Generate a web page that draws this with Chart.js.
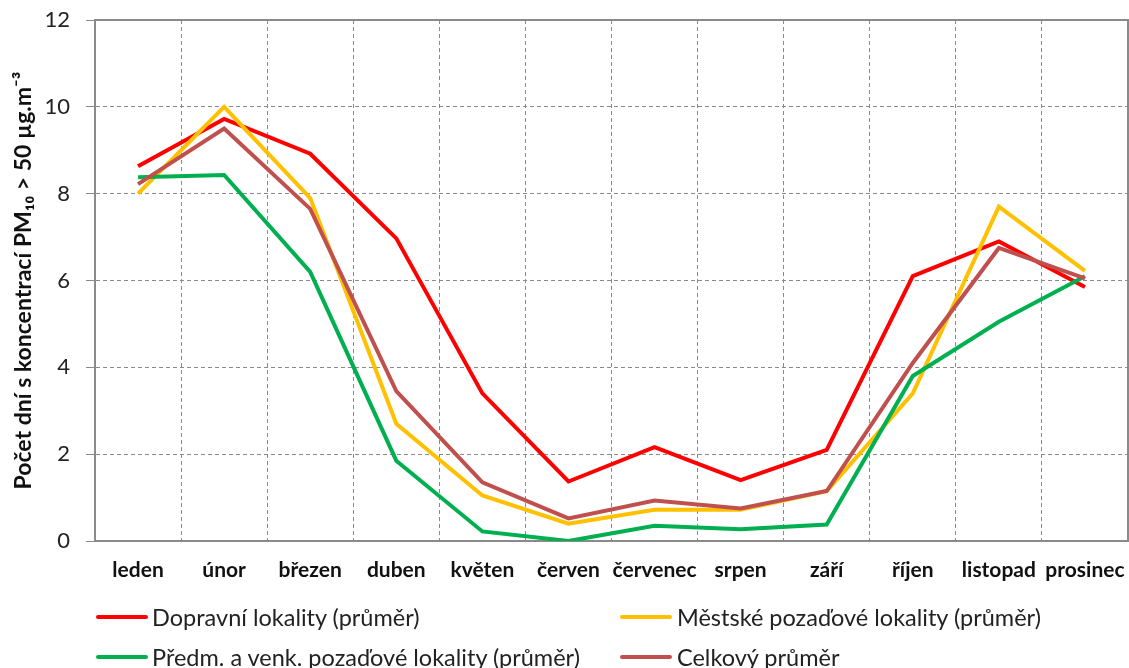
<!DOCTYPE html>
<html>
<head>
<meta charset="utf-8">
<script src="https://cdn.jsdelivr.net/npm/chart.js@4.4.1/dist/chart.umd.min.js"></script>
<style>
  html, body { margin: 0; padding: 0; background: #fff; }
  #wrap { position: relative; width: 1129px; height: 668px; overflow: hidden; }
  canvas { position: absolute; left: 0; top: 0; }
  .leg { position: absolute; font-family: Lato, "Open Sans", sans-serif; font-size: 23.5px; color: #222; white-space: nowrap; line-height: 26px; }
  .leg .sw { position: absolute; height: 4px; width: 52px; top: 11px; border-radius: 2px; }
  .leg .tx { position: absolute; }
</style>
</head>
<body>
<div id="wrap">
  <canvas id="c" width="1129" height="668"></canvas>
  <div id="legend"></div>
</div>
<script>
const categories = ["leden", "únor", "březen", "duben", "květen", "červen", "červenec", "srpen", "září", "říjen", "listopad", "prosinec"];
const seriesNames = ["Dopravní lokality (průměr)", "Městské pozaďové lokality (průměr)", "Předm. a venk. pozaďové lokality (průměr)", "Celkový průměr"];
const dopravni = [8.63, 9.72, 8.92, 6.97, 3.40, 1.37, 2.16, 1.40, 2.10, 6.10, 6.90, 5.85];
const mestske  = [8.00, 10.00, 7.90, 2.70, 1.05, 0.40, 0.72, 0.72, 1.15, 3.40, 7.70, 6.22];
const predm    = [8.38, 8.43, 6.20, 1.85, 0.22, 0.00, 0.35, 0.27, 0.38, 3.80, 5.05, 6.10];
const celkovy  = [8.22, 9.50, 7.65, 3.45, 1.35, 0.52, 0.93, 0.75, 1.15, 4.10, 6.75, 6.05];
const yTicks = [0, 2, 4, 6, 8, 10, 12];
const colors = ["#FF0000", "#FFC000", "#00B050", "#C0504D"];

const series = [dopravni, mestske, predm, celkovy];
const datasets = series.map((d, i) => ({
  label: seriesNames[i],
  data: d,
  borderColor: colors[i],
  backgroundColor: colors[i],
  borderWidth: 4,
  pointRadius: 0,
  tension: 0,
  fill: false,
  order: 4 - i
}));

const framePlugin = {
  id: 'frame',
  beforeDatasetsDraw(chart) {
    const a = chart.chartArea, ctx = chart.ctx;
    ctx.save();
    ctx.strokeStyle = '#8a8a8a';
    ctx.lineWidth = 2;
    ctx.strokeRect(a.left, a.top, a.right - a.left, a.bottom - a.top);
    ctx.restore();
  }
};

const chart = new Chart(document.getElementById('c'), {
  type: 'line',
  data: { labels: categories, datasets },
  plugins: [framePlugin],
  options: {
    responsive: false,
    animation: false,
    layout: { padding: { left: 0, top: 20, right: 1, bottom: 0 } },
    plugins: { legend: { display: false }, tooltip: { enabled: false } },
    scales: {
      x: {
        type: 'category',
        offset: true,
        grid: { offset: true, color: '#8a8a8a', lineWidth: 1, drawTicks: false },
        border: { display: true, color: '#8a8a8a', width: 2, dash: [4, 3] },
        ticks: { color: '#111', padding: 17, font: { family: 'Lato', size: 21, weight: 'bold' }, maxRotation: 0, autoSkip: false },
        afterFit(s) { s.height = 127; s.paddingLeft = 0; s.paddingRight = 0; }
      },
      y: {
        min: 0, max: 12,
        afterBuildTicks(s) { s.ticks = yTicks.map(v => ({ value: v })); },
        grid: { color: '#8a8a8a', lineWidth: 1, drawTicks: true, tickLength: 9, tickColor: '#8a8a8a', tickBorderDash: [] },
        border: { display: true, color: '#8a8a8a', width: 2, dash: [4, 3] },
        ticks: { color: '#222', padding: 16, font: { family: 'Lato', size: 22 } },
        title: { display: true, text: 'Počet dní s koncentrací PM₁₀ > 50 µg.m⁻³', color: '#111', font: { family: 'Lato', size: 23, weight: 'bold' }, padding: { top: 10, bottom: 0 } },
        afterFit(s) { s.width = 95; s.paddingTop = 0; s.paddingBottom = 0; }
      }
    }
  }
});

// HTML legend in two columns
const legPos = [[96, 604], [620, 604], [96, 644], [620, 644]];
const legend = document.getElementById('legend');
seriesNames.forEach((name, i) => {
  const el = document.createElement('div');
  el.className = 'leg';
  el.style.left = legPos[i][0] + 'px';
  el.style.top = legPos[i][1] + 'px';
  el.innerHTML = '<span class="sw" style="left:0;background:' + colors[i] + '"></span><span class="tx" style="left:' + (i % 2 ? 57 : 56) + 'px">' + name + '</span>';
  legend.appendChild(el);
});
</script>
</body>
</html>
